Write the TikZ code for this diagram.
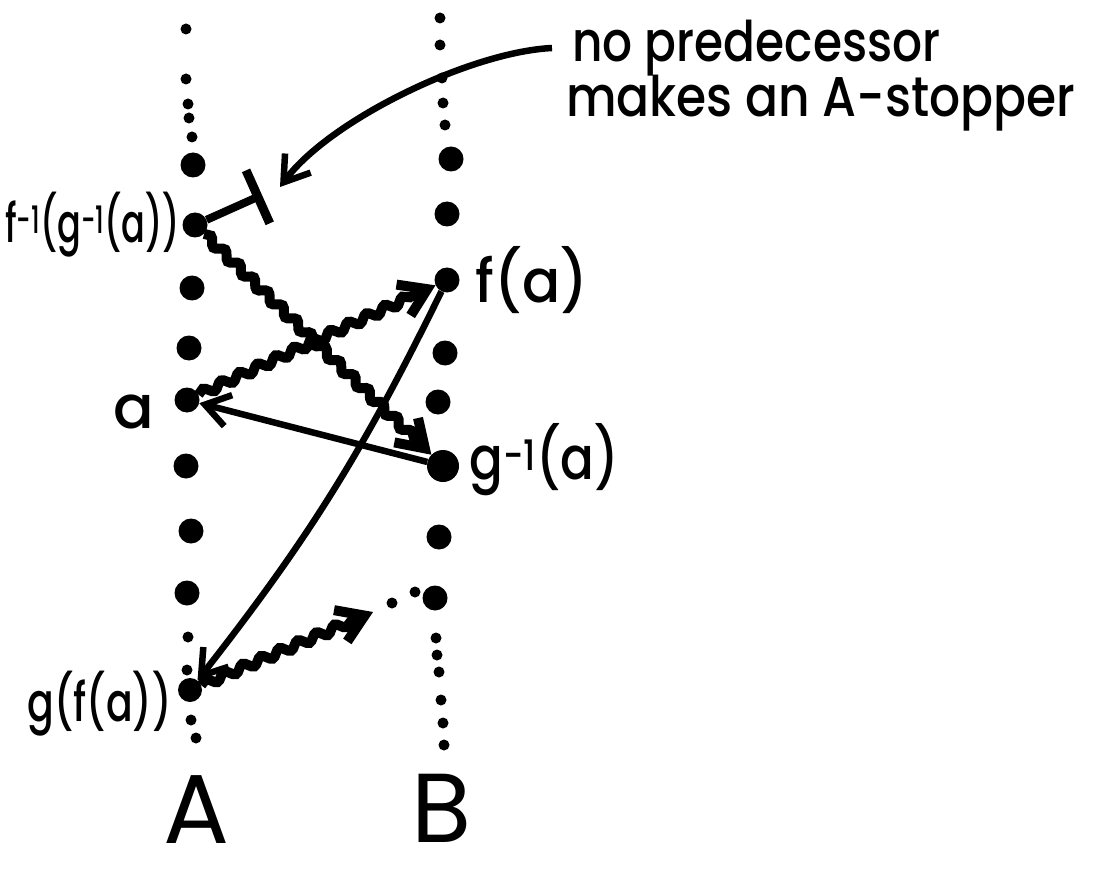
\documentclass[tikz,border=0pt]{standalone}
\usepackage{fontspec}
\setmainfont{Poppins}[BoldFont={Poppins Medium}]
\usetikzlibrary{positioning, arrows.meta, decorations.pathmorphing}

\begin{document}
\begin{tikzpicture}[
    x=1pt, y=-1pt,
    bigdot/.style={circle, fill=black, inner sep=0pt, minimum size=25pt},
    smalldot/.style={circle, fill=black, inner sep=0pt, minimum size=11pt},
    lbl/.style={font=\fontsize{60}{64}\selectfont\bfseries, inner sep=2pt},
    note/.style={font=\fontsize{56}{60}\selectfont\bfseries, inner sep=0pt},
    arrow/.style={-{Straight Barb[length=24pt, width=32pt]}, line width=6.5pt},
    wavy/.style={
        -{Straight Barb[length=26pt, width=34pt]},
        line width=10pt,
        decorate,
        decoration={snake, amplitude=3.5pt, segment length=20pt, post length=24pt}
    }
]
\useasboundingbox (0,0) rectangle (1113,877);

% --- Column A ---
\foreach \x/\y [count=\i] in {186/29, 186/79, 188/104, 189/118, 192/137,
                               188/637, 187/670, 191/720, 196/738}
    \node[smalldot] (sa\i) at (\x,\y) {};
\foreach \x/\y [count=\i] in {193/165, 192/288, 189/348, 186/466, 191/531, 187/593}
    \node[bigdot] (ba\i) at (\x,\y) {};
\node[bigdot] (finv) at (195,225) {};
\node[bigdot] (a) at (187,400) {};
\node[bigdot, minimum size=24pt] (gfa) at (190,690) {};

% --- Column B ---
\foreach \x/\y [count=\i] in {440/18, 440/45, 442/78, 443/103, 445/125,
                               436/638, 437/655, 439/672, 441/700, 443/723, 444/745,
                               415/592, 392/603}
    \node[smalldot] (sb\i) at (\x,\y) {};
\foreach \x/\y [count=\i] in {451/159, 447/214, 445/353, 438/402, 439/537}
    \node[bigdot] (bb\i) at (\x,\y) {};
\node[bigdot] (fa) at (447,280) {};
\node[bigdot, minimum size=32pt] (ginv) at (443,466) {};
\node[bigdot] (bend) at (435,598) {};

% --- Labels ---
\node[lbl, font=\fontsize{54}{58}\selectfont\bfseries, left=0pt of finv]
    (lfinv) {\scalebox{0.65}[1]{f\textsuperscript{-1}(g\textsuperscript{-1}(a))}};
\node[lbl, right=14pt of fa] (lfa) {\scalebox{0.94}[1]{f(a)}};
\node[lbl, left=18pt of a, yshift=-12pt] (la) {a};
\node[lbl, right=8pt of ginv, yshift=6pt] (lginv) {\scalebox{0.83}[1]{g\textsuperscript{-1}(a)}};
\node[lbl, font=\fontsize{54}{58}\selectfont\bfseries, left=4pt of gfa, yshift=-14pt]
    (lgfa) {\scalebox{0.73}[1]{g(f(a))}};
\node[font=\fontsize{98}{100}\selectfont] (colA) at (197,810) {A};
\node[font=\fontsize{98}{100}\selectfont] (colB) at (442,808) {B};

% --- Note ---
\node[note, anchor=base west] (note1) at (572,62)
    {\scalebox{0.84}[1]{no predecessor}};
\node[note, anchor=base west] (note2) at ([xshift=-6pt, yshift=-55pt]note1.base west)
    {\scalebox{0.87}[1]{makes an A-stopper}};

% --- Connectors ---
\draw[wavy] (finv) -- (ginv);
\draw[arrow] (ginv) -- (a);
\draw[wavy] (a) -- (fa);
\draw[arrow] (fa) to[bend left=6] (gfa);
\coordinate (wend) at (373,612);
\draw[wavy] (gfa) -- (wend);

% stopper bar
\coordinate (stop) at (262,195);
\draw[line width=8pt, -{Bar[width=58pt, line width=9pt]}] (finv) -- (stop);

% note arrow
\coordinate (hint) at (280,187);
\draw[arrow] ([xshift=-20pt, yshift=14pt]note1.base west)
    .. controls +(-82,4) and +(50,-67) .. (hint);

\end{tikzpicture}
\end{document}
